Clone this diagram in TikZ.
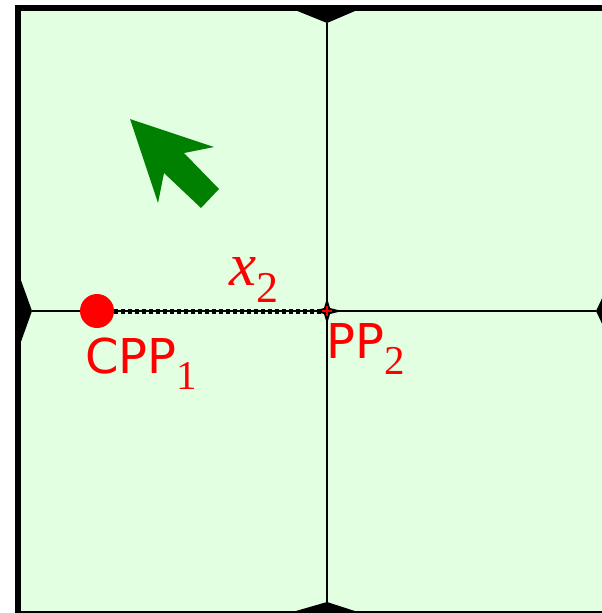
\documentclass[tikz,border=0pt]{standalone}
\usepackage{fontspec}
\setmainfont{DejaVu Sans}
\newfontfamily\timesfont{Liberation Serif}
\usetikzlibrary{positioning}
\definecolor{cellgreen}{RGB}{226,255,226}
\definecolor{arrowgreen}{RGB}{0,128,0}
\newcommand{\lowsub}[1]{\raisebox{-16pt}{\timesfont\fontsize{41}{44}\selectfont #1}}

\begin{document}
\begin{tikzpicture}[x=1pt, y=-1pt,
  wall/.style={draw=black, line width=6pt},
  seam/.style={draw=black, line width=2.2pt},
  pinch/.style={fill=black},
  redlabel/.style={text=red, inner sep=0pt, anchor=base west, font=\fontsize{48}{56}\selectfont}]
\useasboundingbox (0,0) rectangle (602,613);
\clip (0,0) rectangle (602,613);
\fill[white] (0,0) rectangle (602,613);
\draw[wall, fill=cellgreen] (18,7.7) rectangle (640,614);
\coordinate (top) at (327,23);
\coordinate (bot) at (327,602);
\coordinate (lft) at (32,311);
\coordinate (rgt) at (596,311);
\coordinate (pp) at (327,311);
\fill[pinch] (290,8) -- (top) -- (362,8) -- cycle;
\fill[pinch] (289,613) -- (bot) -- (361,613) -- cycle;
\fill[pinch] (18,272) -- (lft) -- (18,350) -- cycle;
\fill[pinch] (606,290) -- (rgt) -- (606,332) -- cycle;
\draw[seam] (top) -- (bot);
\draw[seam] (lft) -- (rgt);
\fill[arrowgreen] (130,119) -- (214,147) -- (184,153) -- (219,189) -- (201,208) -- (164,173) -- (158,203) -- cycle;
\node[circle, fill=red, minimum size=34pt, inner sep=0pt] (cpp) at (97,311) {};
\draw[black, line width=5pt, dash pattern=on 4pt off 3pt] (cpp.east) -- (pp);
\fill[black] (313,311) -- (324,308) -- (327,298) -- (330,308) -- (342,311) -- (330,314) -- (327,324) -- (324,314) -- cycle;
\draw[red, line width=1.5pt] (322,311) -- (332,311) (327,306) -- (327,316);
\node[redlabel] (cpplabel) at (85,373) {CPP\lowsub{1}};
\node[redlabel] (pplabel) at (326,358) {PP\lowsub{2}};
\node[redlabel, font=\timesfont\fontsize{61}{66}\selectfont] (xlabel) at (229,285) {\textit{x}\raisebox{-17pt}{\fontsize{44}{48}\selectfont 2}};
\end{tikzpicture}
\end{document}
